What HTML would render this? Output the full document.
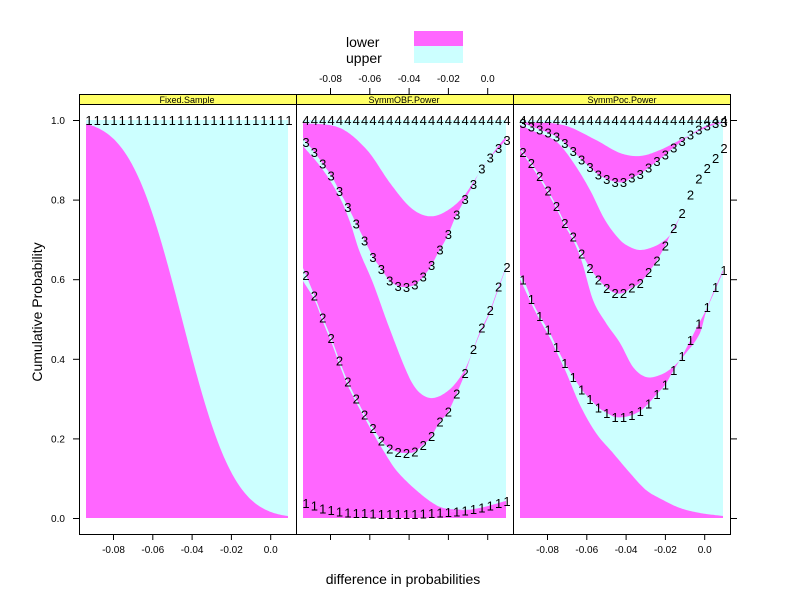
<!DOCTYPE html>
<html><head><meta charset="utf-8">
<style>
html,body{margin:0;padding:0;background:#fff;}
svg{display:block;font-family:"Liberation Sans",Arial,sans-serif;}
</style></head>
<body>
<svg id="s" width="792" height="611" xmlns="http://www.w3.org/2000/svg">
<rect width="792" height="611" fill="#fff"/>
<g id="fills"></g>
<g id="labs" font-size="13" fill="#000" text-anchor="middle"></g>
<g id="frame" stroke="#000" fill="none" stroke-width="1"></g>
<g id="txt" font-size="10" fill="#000" text-anchor="middle"></g>
<text x="346" y="47" font-size="14">lower</text>
<text x="346" y="63" font-size="14">upper</text>
<rect x="414" y="31" width="49" height="15" fill="#ff66ff"/>
<rect x="414" y="46" width="49" height="17" fill="#ccffff"/>
<text x="403" y="584" font-size="14" text-anchor="middle">difference in probabilities</text>
<text x="0" y="0" font-size="14" text-anchor="middle" transform="translate(42,312) rotate(-90)">Cumulative Probability</text>
</svg>
<script>
var NS="http://www.w3.org/2000/svg";
function el(p,t,a,txt){var e=document.createElementNS(NS,t);for(var k in a)e.setAttribute(k,a[k]);if(txt!==undefined)e.textContent=txt;document.getElementById(p).appendChild(e);return e;}
function slope(P,i){var n=P.length;if(i==0)return (P[1][1]-P[0][1])/(P[1][0]-P[0][0]);if(i==n-1)return (P[n-1][1]-P[n-2][1])/(P[n-1][0]-P[n-2][0]);return (P[i+1][1]-P[i-1][1])/(P[i+1][0]-P[i-1][0]);}
function interp(P,x){if(x<=P[0][0])return P[0][1];for(var i=1;i<P.length;i++){if(x<=P[i][0]){var a=P[i-1],b=P[i],h=b[0]-a[0],t=(x-a[0])/h;var m0=slope(P,i-1)*h,m1=slope(P,i)*h;var t2=t*t,t3=t2*t;return (2*t3-3*t2+1)*a[1]+(t3-2*t2+t)*m0+(-2*t3+3*t2)*b[1]+(t3-t2)*m1;}}return P[P.length-1][1];}
var MAG="#ff66ff",CY="#ccffff";
function band(x0,x1,B,T){var pts=[];for(var x=x0;x<=x1;x+=1)pts.push(x+","+interp(T,x).toFixed(1));for(var x=x1;x>=x0;x-=1)pts.push(x+","+interp(B,x).toFixed(1));el("fills","polygon",{points:pts.join(" "),fill:MAG});}
function labels(x0,x1,L,d){for(var i=0;i<25;i++){var x=x0+3+(x1-x0-6)*i/24;el("labs","text",{x:x.toFixed(1),y:(interp(L,x)+5).toFixed(1)},d);}}
var Y0=[[0,518],[800,518]],Y1=[[0,120],[800,120]];
el("fills","rect",{x:86,y:120,width:202,height:398,fill:CY});
var M1a=[];function Phi(z){var t=1/(1+0.2316419*Math.abs(z));var d=0.3989423*Math.exp(-z*z/2);var p=d*t*(0.3193815+t*(-0.3565638+t*(1.781478+t*(-1.821256+t*1.330274))));return z>0?1-p:p;}
for(var x=86;x<=288;x+=2){M1a.push([x,518-398*(1-Phi((x-182)/41))]);}
band(86,288,Y0,M1a);
labels(86,292,Y1,"1");
el("fills","rect",{x:303,y:120,width:203,height:398,fill:CY});
var p2L1=[[303,502],[330,510],[360,513],[405,514],[450,512],[480,508],[506,501]];
var p2M2=[[303,281],[315,301],[323,322],[332,344],[340,366],[348,386],[357,404],[363,415],[373,433],[383,450],[396,470],[416,490],[436,505],[449,509],[480,509],[506,504]];
var p2L2=[[303,268],[306,275],[315,297],[323,318],[332,340],[340,362],[348,382],[357,400],[365,415],[373,428],[381,440],[389,448],[398,452],[406,453],[414,452],[423,445],[431,437],[439,423],[448,412],[456,395],[464,376],[471,356],[479,334],[489,313],[497,291],[506,267]];
var p2M3=[[303,146],[323,170],[340,198],[350,222],[359,250],[373,283],[389,327],[409,377],[420,393],[433,398],[449,390],[463,373],[470,358],[479,336],[489,315],[497,293],[506,268]];
var p2L3=[[303,138],[307,143],[315,153],[323,164],[332,177],[340,192],[348,207],[357,225],[365,241],[373,257],[382,270],[389,280],[398,286],[406,287],[414,285],[423,277],[431,266],[438,253],[447,237],[455,218],[463,203],[472,187],[479,173],[488,160],[497,150],[506,140]];
var p2M4=[[303,123],[340,128],[367,150],[390,183],[410,207],[427,216],[443,213],[463,197],[483,167],[503,140],[506,138]];
band(303,506,Y0,p2L1);band(303,506,p2L1,p2M2);band(303,506,p2L2,p2M3);band(303,506,p2L3,p2M4);
labels(303,510,p2L1,"1");labels(303,510,p2L2,"2");labels(303,510,p2L3,"3");labels(303,510,Y1,"4");
el("fills","rect",{x:520,y:120,width:203,height:398,fill:CY});
var p3L1=[[520,275],[525,283],[533,303],[541,318],[550,333],[558,350],[566,365],[574,378],[582,390],[591,400],[599,408],[607,413],[615,417],[624,417],[632,415],[640,411],[648,404],[656,395],[665,385],[672,373],[681,358],[689,343],[697,327],[706,310],[713,293],[723,270]];
var p3M1=[[520,279],[533,307],[541,322],[550,338],[558,355],[566,372],[580,405],[596,433],[613,453],[630,473],[646,490],[663,500],[680,508],[700,513],[723,516]];
var p3L2=[[520,147],[525,155],[532,164],[541,178],[549,192],[557,207],[565,223],[574,238],[582,254],[590,268],[599,280],[607,288],[615,293],[623,293],[631,288],[640,283],[648,273],[656,262],[665,246],[672,231],[681,215],[689,198],[696,183],[705,171],[714,160],[723,148]];
var p3M2=[[520,150],[532,167],[541,181],[549,195],[557,210],[565,226],[574,242],[582,262],[593,300],[606,323],[620,343],[633,367],[646,377],[660,375],[673,367],[686,353],[700,333],[706,312],[713,295],[723,272]];
var p3L3=[[520,122],[525,124],[533,127],[541,130],[549,133],[557,137],[566,144],[574,152],[582,160],[591,168],[599,175],[607,179],[616,182],[624,182],[631,178],[640,174],[648,168],[656,162],[665,155],[673,148],[681,142],[690,135],[698,130],[706,126],[715,123],[723,122]];
var p3M3=[[520,125],[533,131],[549,137],[560,145],[575,165],[590,190],[605,220],[620,240],[630,247],[640,250],[653,247],[665,240],[673,231],[681,215],[689,198],[696,183],[705,171],[714,160],[723,148]];
var p3M4=[[520,122],[563,125],[596,140],[620,153],[640,156],[660,150],[686,137],[713,125],[723,123]];
band(520,723,Y0,p3M1);band(520,723,p3L1,p3M2);band(520,723,p3L2,p3M3);band(520,723,p3L3,p3M4);
labels(520,727,p3L1,"1");labels(520,727,p3L2,"2");labels(520,727,p3L3,"3");labels(520,727,Y1,"4");
[79,296,513].forEach(function(x0){
 el("fills","rect",{x:x0,y:94,width:217,height:10,fill:"#ffff66"});
 el("frame","rect",{x:x0+0.5,y:94.5,width:217,height:10});
 el("frame","rect",{x:x0+0.5,y:104.5,width:217,height:430});
});
el("txt","text",{x:187,y:103,"font-size":9},"Fixed.Sample");
el("txt","text",{x:404,y:103,"font-size":9},"SymmOBF.Power");
el("txt","text",{x:622,y:103,"font-size":9},"SymmPoc.Power");
var tl=["-0.08","-0.06","-0.04","-0.02","0.0"];
[79,296,513].forEach(function(x0,pi){
 for(var i=0;i<5;i++){var x=x0+34+i*39.3+0.5;
  el("frame","line",{x1:x,y1:534,x2:x,y2:540});
  if(pi!=1)el("txt","text",{x:x,y:553},tl[i]);
  else{el("frame","line",{x1:x,y1:94,x2:x,y2:88});el("txt","text",{x:x,y:82},tl[i]);}
 }
});
var yl=["0.0","0.2","0.4","0.6","0.8","1.0"];
for(var i=0;i<6;i++){var y=518-i*79.6+0.5;
 el("frame","line",{x1:79,y1:y,x2:73,y2:y});el("frame","line",{x1:731,y1:y,x2:737,y2:y});
 el("txt","text",{x:58,y:y+3.5},yl[i]);}
</script>
</body></html>
